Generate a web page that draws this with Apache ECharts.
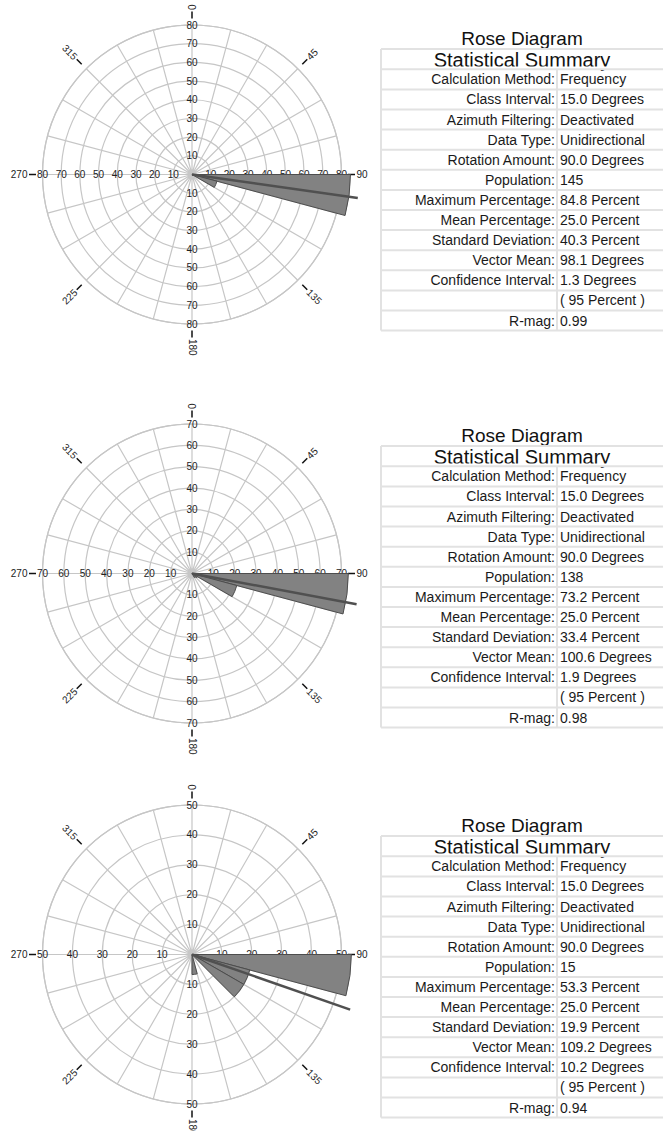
<!DOCTYPE html>
<html>
<head>
<meta charset="utf-8">
<title>Rose Diagrams</title>
<script src="https://cdn.jsdelivr.net/npm/echarts@6/dist/echarts.min.js"></script>
<style>
  html, body { margin: 0; padding: 0; background: #ffffff; }
  #chart { width: 669px; height: 1131px; }
</style>
</head>
<body>
<div id="chart"></div>
<script>
// ---- Data ---------------------------------------------------------------
// 15-degree classes, clockwise from north
const binLabels = [
  '0-15', '15-30', '30-45', '45-60', '60-75', '75-90',
  '90-105', '105-120', '120-135', '135-150', '150-165', '165-180',
  '180-195', '195-210', '210-225', '225-240', '240-255', '255-270',
  '270-285', '285-300', '300-315', '315-330', '330-345', '345-360'
];

// Percentage of observations per class
const petalsA = [0, 0, 0, 0, 0, 0.7, 84.8, 13.8, 0.7, 0, 0, 0, 0, 0, 0, 0, 0, 0, 0, 0, 0, 0, 0, 0];
const petalsB = [0, 0, 0, 0, 0, 0, 73.2, 21.7, 2.9, 2.2, 0, 0, 0, 0, 0, 0, 0, 0, 0, 0, 0, 0, 0, 0];
const petalsC = [0, 0, 0, 0, 0, 0, 53.3, 20.0, 20.0, 0, 0, 6.7, 0, 0, 0, 0, 0, 0, 0, 0, 0, 0, 0, 0];

// Percentage rings
const ringsA = [10, 20, 30, 40, 50, 60, 70, 80];
const ringsB = [10, 20, 30, 40, 50, 60, 70];
const ringsC = [10, 20, 30, 40, 50];

// Azimuth labels
const compassTicks = [0, 45, 90, 135, 180, 225, 270, 315];

// Summary table
const summaryLabels = [
  'Calculation Method:', 'Class Interval:', 'Azimuth Filtering:', 'Data Type:',
  'Rotation Amount:', 'Population:', 'Maximum Percentage:', 'Mean Percentage:',
  'Standard Deviation:', 'Vector Mean:', 'Confidence Interval:', '', 'R-mag:'
];
const summaryA = ['Frequency', '15.0 Degrees', 'Deactivated', 'Unidirectional', '90.0 Degrees', '145',
  '84.8 Percent', '25.0 Percent', '40.3 Percent', '98.1 Degrees', '1.3 Degrees', '( 95 Percent )', '0.99'];
const summaryB = ['Frequency', '15.0 Degrees', 'Deactivated', 'Unidirectional', '90.0 Degrees', '138',
  '73.2 Percent', '25.0 Percent', '33.4 Percent', '100.6 Degrees', '1.9 Degrees', '( 95 Percent )', '0.98'];
const summaryC = ['Frequency', '15.0 Degrees', 'Deactivated', 'Unidirectional', '90.0 Degrees', '15',
  '53.3 Percent', '25.0 Percent', '19.9 Percent', '109.2 Degrees', '10.2 Degrees', '( 95 Percent )', '0.94'];

const VECTOR_MEAN_ROW = 9;

// ---- Layout & style -----------------------------------------------------
const FONT = "'Liberation Sans', Arial, Helvetica, sans-serif";
const GRID = '#c6c6c6';
const R = 149.5;          // plot radius (px)
const CX = 192;
const TICK_IN = 156, TICK_OUT = 163, LABEL_R = 164.5;
const MEAN_LEN = 1.12;    // mean-vector length relative to the outer ring

const panels = [
  { petals: petalsA, rings: ringsA, summary: summaryA, cy: 174.5, ty: 0 },
  { petals: petalsB, rings: ringsB, summary: summaryB, cy: 573.5, ty: 397 },
  { petals: petalsC, rings: ringsC, summary: summaryC, cy: 954.5, ty: 787 }
];

const polar = [], angleAxis = [], radiusAxis = [], series = [], graphics = [];
const hidden = { axisLine: { show: false }, axisTick: { show: false }, axisLabel: { show: false }, splitLine: { show: false } };

panels.forEach((p, i) => {
  const maxR = p.rings[p.rings.length - 1];
  const center = [CX, p.cy];
  const gIdx = 2 * i, bIdx = 2 * i + 1;
  const meanDir = parseFloat(p.summary[VECTOR_MEAN_ROW]);

  // Grid polar: spokes every 15 degrees and rings every 10 percent
  polar.push({ center, radius: R });
  angleAxis.push({
    polarIndex: gIdx, type: 'value', min: 0, max: 360, interval: 15,
    startAngle: 90, clockwise: true,
    axisLine: { show: true, lineStyle: { color: GRID, width: 1.2 } },
    axisTick: { show: false }, axisLabel: { show: false },
    splitLine: { show: true, lineStyle: { color: GRID, width: 1.2 } }
  });
  radiusAxis.push({
    polarIndex: gIdx, type: 'value', min: 0, max: maxR, interval: 10,
    axisLine: { show: false }, axisTick: { show: false }, axisLabel: { show: false },
    splitLine: { show: true, lineStyle: { color: GRID, width: 1.2 } }
  });

  // Petal polar: one category per class
  polar.push({ center, radius: R });
  angleAxis.push(Object.assign({
    polarIndex: bIdx, type: 'category', data: binLabels, boundaryGap: true,
    startAngle: 90, clockwise: true
  }, hidden));
  radiusAxis.push(Object.assign({ polarIndex: bIdx, type: 'value', min: 0, max: maxR }, hidden));

  // Ring values along the four cardinal spokes (beneath the petals)
  const ringLabelData = [];
  [0, 90, 180, 270].forEach(a => p.rings.forEach(r => ringLabelData.push([r, a])));
  series.push({
    type: 'custom', coordinateSystem: 'polar', polarIndex: gIdx,
    data: ringLabelData, silent: true, z: 2,
    renderItem: (params, api) => {
      const pt = api.coord([api.value(0), api.value(1)]);
      return {
        type: 'text', x: pt[0], y: pt[1],
        style: { text: String(api.value(0)), fill: '#222222', font: '10px ' + FONT,
                 align: 'center', verticalAlign: 'middle' }
      };
    }
  });

  // Petals
  series.push({
    type: 'bar', coordinateSystem: 'polar', polarIndex: bIdx,
    data: p.petals, barCategoryGap: '0%', clip: false, silent: true, z: 3,
    itemStyle: { color: '#828282', borderColor: '#4d4d4d', borderWidth: 1 }
  });

  // Vector mean, drawn from the centre out past the outer ring
  series.push({
    type: 'custom', coordinateSystem: 'polar', polarIndex: gIdx,
    data: [[maxR * MEAN_LEN, meanDir]], silent: true, z: 4,
    renderItem: (params, api) => {
      const a = api.value(1);
      const p0 = api.coord([0, a]);
      const p1 = api.coord([api.value(0), a]);
      return {
        type: 'line', shape: { x1: p0[0], y1: p0[1], x2: p1[0], y2: p1[1] },
        style: { stroke: '#505050', lineWidth: 2.5, lineCap: 'butt' }
      };
    }
  });

  // Azimuth ticks and labels
  series.push({
    type: 'custom', coordinateSystem: 'polar', polarIndex: gIdx,
    data: compassTicks.map(a => [maxR, a]), silent: true, z: 2,
    renderItem: (params, api) => {
      const a = api.value(1);
      const u = maxR / R;
      const p0 = api.coord([TICK_IN * u, a]);
      const p1 = api.coord([TICK_OUT * u, a]);
      const pl = api.coord([LABEL_R * u, a]);
      const right = a <= 180;
      const rot = (right ? 90 - a : 270 - a) * Math.PI / 180;
      return {
        type: 'group',
        children: [
          { type: 'line', shape: { x1: p0[0], y1: p0[1], x2: p1[0], y2: p1[1] },
            style: { stroke: '#111', lineWidth: 1.5 } },
          { type: 'text', x: pl[0], y: pl[1], rotation: rot,
            style: { text: String(a), fill: '#222', font: '10px ' + FONT,
                     align: right ? 'left' : 'right', verticalAlign: 'middle' } }
        ]
      };
    }
  });

  // Statistical summary table
  const ty = p.ty;
  const TL = 381, TR = 663, COL = 557, TOP = 49, ROW0 = 69.3, RH = 20.1;
  graphics.push({ type: 'text', x: 522, y: 38 + ty, z: 10,
    style: { text: 'Rose Diagram', font: '19px ' + FONT, fill: '#111', align: 'center', verticalAlign: 'middle' } });
  graphics.push({ type: 'text', x: 522, y: 59.5 + ty, z: 10,
    style: { text: 'Statistical Summary', font: '20px ' + FONT, fill: '#111', align: 'center', verticalAlign: 'middle' } });
  graphics.push({ type: 'rect', z: 11, shape: { x: TL, y: 66.4 + ty, width: TR - TL, height: ROW0 - 66.4 },
    style: { fill: '#ffffff' } });
  summaryLabels.forEach((lab, k) => {
    const yc = ROW0 + RH * k + RH / 2 + ty;
    if (lab) graphics.push({ type: 'text', x: 555, y: yc, z: 10,
      style: { text: lab, font: '14px ' + FONT, fill: '#1a1a1a', align: 'right', verticalAlign: 'middle' } });
    graphics.push({ type: 'text', x: 560, y: yc, z: 10,
      style: { text: p.summary[k], font: '14px ' + FONT, fill: '#1a1a1a', align: 'left', verticalAlign: 'middle' } });
  });
  const nRows = summaryLabels.length;
  graphics.push({ type: 'line', z: 12, shape: { x1: TL, y1: TOP + ty, x2: TR, y2: TOP + ty },
    style: { stroke: '#e2e2e2', lineWidth: 2 } });
  for (let k = 0; k <= nRows; k++) {
    const y = ROW0 + RH * k + ty;
    graphics.push({ type: 'line', z: 12, shape: { x1: TL, y1: y, x2: TR, y2: y },
      style: { stroke: '#e2e2e2', lineWidth: 2 } });
  }
  graphics.push({ type: 'line', z: 12, shape: { x1: TL, y1: TOP + ty, x2: TL, y2: ROW0 + RH * nRows + ty },
    style: { stroke: '#e2e2e2', lineWidth: 2 } });
  graphics.push({ type: 'line', z: 12, shape: { x1: COL, y1: ROW0 + ty, x2: COL, y2: ROW0 + RH * nRows + ty },
    style: { stroke: '#e2e2e2', lineWidth: 2 } });
});

const chart = echarts.init(document.getElementById('chart'), null, { renderer: 'svg' });
chart.setOption({
  backgroundColor: '#ffffff',
  animation: false,
  polar, angleAxis, radiusAxis, series,
  graphic: { elements: graphics }
});
</script>
</body>
</html>
